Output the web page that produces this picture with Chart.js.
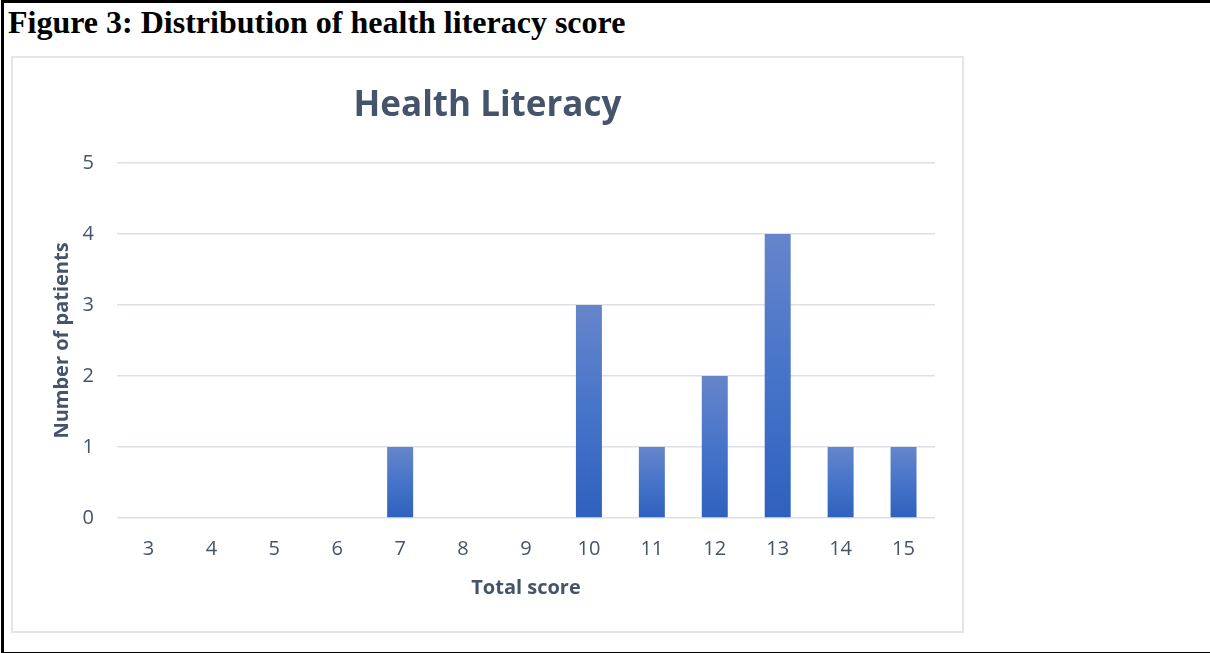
<!DOCTYPE html>
<html>
<head>
<meta charset="utf-8">
<script src="https://cdn.jsdelivr.net/npm/chart.js@4"></script>
<style>
  html, body { margin: 0; padding: 0; background: #fff; }
  body { width: 1210px; height: 653px; position: relative; overflow: hidden; }
  #frame { position: absolute; left: 1px; top: 0; width: 1215px; height: 649px; border-top: 3px solid #000; border-left: 3px solid #000; border-bottom: 3px solid #000; box-sizing: content-box; }
  #fig { position: absolute; left: 8px; top: 4px; font-family: "Liberation Serif", "Times New Roman", serif; font-weight: bold; font-size: 32px; color: #000; white-space: nowrap; }
  #box { position: absolute; left: 11px; top: 56px; width: 949px; height: 573px; border: 2px solid #e2e6ec; }
  #c { display: block; }
</style>
</head>
<body>
<div id="frame"></div>
<div id="fig">Figure 3: Distribution of health literacy score</div>
<div id="box"><canvas id="c" width="949" height="573"></canvas></div>
<script>
const chartTitle = "Health Literacy";
const xTitle = "Total score";
const yTitle = "Number of patients";
const categories = ["3","4","5","6","7","8","9","10","11","12","13","14","15"];
const patients = [0, 0, 0, 0, 1, 0, 0, 3, 1, 2, 4, 1, 1];
const yTicks = [0, 1, 2, 3, 4, 5];

const textColor = "#44546A";
const tickColor = "#46546a";

function barGradient(ctx) {
  const chart = ctx.chart;
  if (!chart.chartArea || ctx.type !== "data") return "#4472C4";
  const v = ctx.raw;
  const ys = chart.scales.y;
  const top = ys.getPixelForValue(v);
  const base = ys.getPixelForValue(0);
  if (base - top < 1) return "#2E61BD";
  const g = chart.ctx.createLinearGradient(0, top, 0, base);
  g.addColorStop(0, "#6685CB");
  g.addColorStop(0.5, "#4674C9");
  g.addColorStop(1, "#2E61BD");
  return g;
}

new Chart(document.getElementById("c"), {
  type: "bar",
  data: {
    labels: categories,
    datasets: [{
      data: patients,
      backgroundColor: barGradient,
      borderWidth: 0,
      categoryPercentage: 1,
      barPercentage: 0.413
    }]
  },
  options: {
    responsive: false,
    animation: false,
    devicePixelRatio: 1,
    layout: { padding: { left: 0, right: 0, top: 0, bottom: 0 } },
    plugins: {
      legend: { display: false },
      tooltip: { enabled: false },
      title: {
        display: true,
        text: chartTitle,
        color: textColor,
        font: { family: "Open Sans", size: 35, weight: "bold" },
        padding: { top: 27, bottom: 36 }
      }
    },
    scales: {
      x: {
        grid: { display: false, drawTicks: false },
        border: { display: false },
        ticks: { color: tickColor, font: { family: "Open Sans", size: 20 }, padding: 19, maxRotation: 0 },
        title: { display: true, text: xTitle, color: textColor, font: { family: "Open Sans", size: 20, weight: "bold" }, padding: { top: 0, bottom: 31 } },
        afterFit: (s) => { s.height = 113; }
      },
      y: {
        min: 0, max: 5,
        afterBuildTicks: (s) => { s.ticks = yTicks.map(v => ({ value: v })); },
        grid: { color: "#dce0e7", lineWidth: 1.5, drawTicks: false },
        border: { display: false },
        ticks: { color: tickColor, font: { family: "Open Sans", size: 20 }, padding: 23 },
        title: { display: true, text: yTitle, color: textColor, font: { family: "Open Sans", size: 20, weight: "bold" }, padding: { top: 37, bottom: 0 } },
        afterFit: (s) => { s.width = 104; }
      },
      yR: {
        type: "linear",
        position: "right",
        display: true,
        grid: { display: false, drawTicks: false },
        border: { display: false },
        ticks: { display: false },
        afterFit: (s) => { s.width = 27; }
      }
    }
  }
});
</script>
</body>
</html>
